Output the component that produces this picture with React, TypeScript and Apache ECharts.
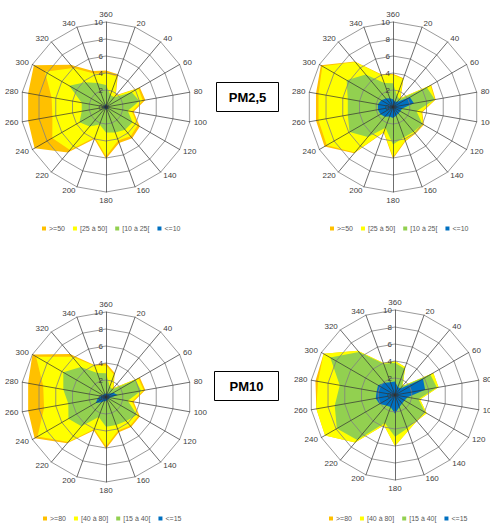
import React, { useEffect, useRef } from "react";
import * as echarts from "echarts";

// Directions, clockwise from the top
const directions = ["360", "20", "40", "60", "80", "100", "120", "140", "160", "180", "200", "220", "240", "260", "280", "300", "320", "340"];

const names25 = [">=50", "[25 à 50]", "[10 à 25[", "<=10"];
const names10 = [">=80", "[40 à 80]", "[15 à 40[", "<=15"];
const colors = ["#FFC000", "#FFFF00", "#92D050", "#0070C0"];
const radialTicks = ["0", "2", "4", "6", "8", "10"];

// PM2,5 – left
const pm25A_orange = [4.3, 4.1, 1.8, 4.6, 4.7, 3.3, 4.6, 4.8, 4.5, 6.1, 4.0, 7.0, 9.7, 9.3, 9.3, 9.8, 6.5, 4.5];
const pm25A_yellow = [4.0, 3.8, 1.7, 4.4, 4.4, 3.1, 4.3, 4.5, 4.2, 5.8, 3.8, 6.6, 7.3, 6.4, 6.5, 8.3, 6.0, 4.2];
const pm25A_green = [2.6, 1.5, 1.5, 3.5, 4.0, 2.6, 3.6, 3.5, 3.2, 3.0, 2.2, 3.0, 3.6, 2.9, 2.9, 5.0, 3.8, 3.0];
const pm25A_blue = [0.3, 0.3, 0.2, 0.3, 0.3, 0.2, 0.3, 0.3, 0.2, 0.3, 0.3, 0.2, 0.3, 0.3, 0.3, 0.3, 0.2, 0.3];

// PM2,5 – right
const pm25B_orange = [3.9, 3.6, 1.4, 5.2, 5.1, 3.5, 4.2, 4.1, 4.3, 6.1, 3.2, 7.1, 9.3, 9.2, 9.2, 9.8, 7.0, 4.1];
const pm25B_yellow = [3.8, 3.5, 1.3, 5.1, 5.0, 3.4, 4.1, 4.0, 4.2, 5.9, 3.1, 7.0, 9.0, 8.9, 8.9, 9.6, 6.9, 4.0];
const pm25B_green = [2.8, 1.4, 1.2, 4.6, 5.0, 2.8, 4.0, 3.8, 3.8, 4.4, 2.6, 4.6, 5.9, 5.4, 5.4, 6.3, 5.0, 3.0];
const pm25B_blue = [0.9, 0.7, 0.8, 2.3, 2.5, 1.1, 1.0, 1.0, 1.1, 1.3, 1.2, 1.5, 1.7, 1.8, 1.8, 1.6, 1.3, 1.1];

// PM10 – left
const pm10A_orange = [4.0, 3.0, 1.4, 4.6, 4.7, 3.3, 4.6, 4.6, 4.4, 6.1, 4.2, 7.1, 9.7, 9.3, 9.3, 10.0, 6.6, 4.0];
const pm10A_yellow = [3.7, 2.8, 1.3, 4.4, 4.5, 3.1, 4.4, 4.4, 4.2, 5.8, 4.0, 6.9, 9.3, 7.4, 7.5, 9.5, 6.2, 3.9];
const pm10A_green = [2.8, 1.3, 1.2, 4.0, 4.2, 2.6, 4.2, 3.7, 3.5, 3.5, 2.5, 4.5, 5.1, 4.5, 5.1, 5.8, 4.6, 3.0];
const pm10A_blue = [0.4, 0.4, 0.5, 1.0, 1.4, 0.5, 0.4, 0.4, 0.4, 0.5, 0.5, 0.8, 1.4, 1.0, 0.6, 0.5, 0.4, 0.4];

// PM10 – right
const pm10B_orange = [4.0, 3.5, 1.4, 5.2, 5.2, 3.0, 4.3, 4.0, 4.5, 6.0, 3.8, 7.3, 9.5, 9.4, 9.5, 9.7, 6.8, 4.0];
const pm10B_yellow = [4.0, 3.5, 1.4, 5.2, 5.2, 3.0, 4.3, 4.0, 4.5, 6.0, 3.8, 7.3, 9.5, 9.4, 9.2, 9.7, 6.8, 4.0];
const pm10B_green = [3.8, 3.3, 1.3, 4.8, 5.0, 2.8, 4.1, 3.9, 4.2, 4.9, 3.5, 6.9, 7.9, 7.2, 6.6, 8.8, 6.6, 3.9];
const pm10B_blue = [1.6, 1.0, 1.0, 3.8, 3.6, 1.5, 1.3, 1.3, 1.5, 2.2, 1.5, 1.6, 2.1, 2.3, 2.2, 2.3, 1.9, 1.6];

const FONT = "Liberation Sans";

// ECharts radar goes counter-clockwise; reorder so directions run clockwise
const order = directions.map((_, i) => (i === 0 ? 0 : directions.length - i));
const reorder = (arr: number[]) => order.map((i) => arr[i]);

const charts = [
  { center: [106, 107], names: names25, layers: [pm25A_orange, pm25A_yellow, pm25A_green, pm25A_blue] },
  { center: [393, 107], names: names25, layers: [pm25B_orange, pm25B_yellow, pm25B_green, pm25B_blue] },
  { center: [106, 397], names: names10, layers: [pm10A_orange, pm10A_yellow, pm10A_green, pm10A_blue] },
  { center: [395, 395], names: names10, layers: [pm10B_orange, pm10B_yellow, pm10B_green, pm10B_blue] },
];

export default function App() {
  const ref = useRef<HTMLDivElement>(null);
  useEffect(() => {
    if (!ref.current) return;
    const chart = echarts.init(ref.current, null, { renderer: "svg" });

    const radar = charts.map((c) => ({
      center: c.center,
      radius: 85,
      startAngle: 90,
      shape: "polygon",
      splitNumber: 5,
      z: 5,
      nameGap: 4,
      axisName: { color: "#404040", fontSize: 8, fontFamily: FONT },
      splitArea: { show: false },
      splitLine: { lineStyle: { color: "#808080", width: 0.8 } },
      axisLine: { lineStyle: { color: "#303030", width: 0.7 } },
      axisTick: { show: false },
      indicator: order.map((i, k) => ({
        name: directions[i],
        min: 0,
        max: 10,
        ...(k === 0
          ? {
              axisLabel: {
                show: true,
                fontSize: 8,
                color: "#404040",
                fontFamily: FONT,
                margin: 3,
                formatter: (v: number) => radialTicks[Math.round(v / 2)] ?? "",
              },
            }
          : {}),
      })),
    }));

    const series: any[] = [];
    charts.forEach((c, ci) => {
      c.layers.forEach((layer, li) => {
        series.push({
          type: "radar",
          radarIndex: ci,
          name: c.names[li],
          z: 2 + li * 0.1,
          symbol: "none",
          itemStyle: { color: colors[li] },
          lineStyle: { width: 0, color: colors[li] },
          areaStyle: { color: colors[li], opacity: 1 },
          data: [{ name: c.names[li], value: reorder(layer) }],
        });
      });
    });

    const legendBase = {
      icon: "rect",
      itemWidth: 4,
      itemHeight: 4,
      itemGap: 8,
      padding: 0,
      selectedMode: false,
      textStyle: { fontSize: 7, color: "#595959", fontFamily: FONT, padding: [0, 0, 0, -2] },
    };

    chart.setOption({
      animation: false,
      backgroundColor: "#ffffff",
      radar,
      series,
      legend: [
        { ...legendBase, data: names25, left: 42, top: 225 },
        { ...legendBase, data: names25, left: 330, top: 225 },
        { ...legendBase, data: names10, left: 43, top: 515 },
        { ...legendBase, data: names10, left: 329, top: 515 },
      ],
      graphic: [
        { type: "rect", shape: { x: 216.5, y: 82.5, width: 62, height: 29 }, style: { fill: "#fff", stroke: "#000", lineWidth: 1 } },
        { type: "text", x: 247.5, y: 97, style: { text: "PM2,5", font: `bold 13px "${FONT}"`, fill: "#000", align: "center", verticalAlign: "middle" } },
        { type: "rect", shape: { x: 214.5, y: 371.5, width: 64, height: 29 }, style: { fill: "#fff", stroke: "#000", lineWidth: 1 } },
        { type: "text", x: 246.5, y: 386, style: { text: "PM10", font: `bold 13px "${FONT}"`, fill: "#000", align: "center", verticalAlign: "middle" } },
      ],
    });
    return () => chart.dispose();
  }, []);
  return <div ref={ref} style={{ position: "fixed", left: 0, top: 0, width: 490, height: 525 }} />;
}
